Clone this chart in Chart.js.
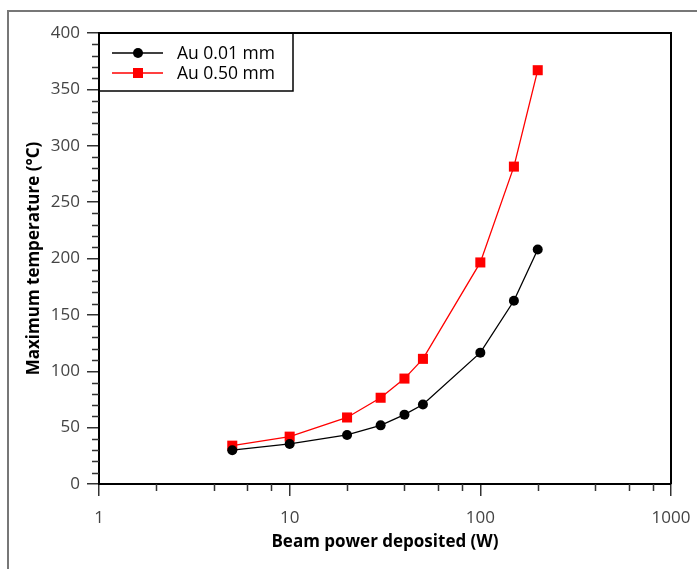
<!DOCTYPE html>
<html>
<head>
<meta charset="utf-8">
<script src="https://cdn.jsdelivr.net/npm/chart.js@4"></script>
<style>
  html, body { margin: 0; padding: 0; background: #fff; }
  #wrap { width: 697px; height: 569px; }
</style>
</head>
<body>
<div id="wrap"><canvas id="tempChart" width="697" height="569"></canvas></div>
<script>
// Beam power values (W) on the log x axis
const powers = [5, 10, 20, 30, 40, 50, 100, 150, 200];
// Maximum temperature (°C)
const tempThin = [30, 35.5, 43.5, 52, 61.5, 70.5, 116.5, 162.5, 208];
const tempThick = [34, 42, 59, 76.5, 93.5, 111, 196.5, 281.5, 367];
const seriesLabels = ['Au 0.01 mm', 'Au 0.50 mm'];
// Labelled ticks
const xTickValues = [1, 10, 100, 1000];
const yTickValues = [0, 50, 100, 150, 200, 250, 300, 350, 400];

const FONT = "'Open Sans', 'Noto Sans', sans-serif";

function toPoints(xs, ys) {
  return xs.map((x, i) => ({ x: x, y: ys[i] }));
}

// Outer grey frame, plot box top/right edges, minor ticks and the legend box
const framePlugin = {
  id: 'frame',
  beforeDraw(chart) {
    const ctx = chart.ctx;
    ctx.save();
    ctx.fillStyle = '#fff';
    ctx.fillRect(0, 0, chart.width, chart.height);
    ctx.strokeStyle = '#777';
    ctx.lineWidth = 2;
    ctx.strokeRect(8, 11, chart.width + 20, chart.height + 20);
    ctx.restore();
  },
  afterDraw(chart) {
    const ctx = chart.ctx;
    const area = chart.chartArea;
    const xs = chart.scales.x;
    const ys = chart.scales.y;
    ctx.save();

    // top and right edges of the plot box
    ctx.strokeStyle = '#000';
    ctx.lineWidth = 2;
    ctx.beginPath();
    ctx.moveTo(area.left, area.top);
    ctx.lineTo(area.right, area.top);
    ctx.lineTo(area.right, area.bottom);
    ctx.stroke();

    // minor ticks
    ctx.strokeStyle = '#333';
    ctx.lineWidth = 1.5;
    ctx.beginPath();
    for (let v = 10; v < 400; v += 10) {
      if (v % 50 === 0) continue;
      const py = Math.round(ys.getPixelForValue(v)) + 0.5;
      ctx.moveTo(area.left - 7, py);
      ctx.lineTo(area.left, py);
    }
    [1, 10, 100].forEach(dec => {
      [2, 4, 6, 8].forEach(m => {
        const px = Math.round(xs.getPixelForValue(dec * m)) + 0.5;
        ctx.moveTo(px, area.bottom);
        ctx.lineTo(px, area.bottom + 7);
      });
    });
    ctx.stroke();

    // legend
    const lx = area.left, ly = area.top;
    ctx.strokeStyle = '#000';
    ctx.lineWidth = 1.5;
    ctx.strokeRect(lx, ly, 194, 58);
    ctx.font = '17.5px ' + FONT;
    ctx.textBaseline = 'middle';
    ctx.textAlign = 'left';
    chart.data.datasets.forEach((ds, i) => {
      const y = ly + 20 + i * 20;
      ctx.strokeStyle = ds.borderColor;
      ctx.lineWidth = ds.borderWidth;
      ctx.beginPath();
      ctx.moveTo(lx + 13, y);
      ctx.lineTo(lx + 64, y);
      ctx.stroke();
      ctx.fillStyle = ds.pointBackgroundColor;
      ctx.beginPath();
      if (ds.pointStyle === 'rect') {
        ctx.rect(lx + 39 - 5, y - 5, 10, 10);
      } else {
        ctx.arc(lx + 39, y, 5, 0, Math.PI * 2);
      }
      ctx.fill();
      ctx.fillStyle = '#000';
      ctx.fillText(ds.label, lx + 78, y + 1);
    });
    ctx.restore();
  }
};

const ctx = document.getElementById('tempChart').getContext('2d');
new Chart(ctx, {
  type: 'line',
  data: {
    datasets: [
      {
        label: seriesLabels[0],
        data: toPoints(powers, tempThin),
        borderColor: '#000',
        backgroundColor: '#000',
        pointBackgroundColor: '#000',
        pointBorderColor: '#000',
        pointStyle: 'circle',
        pointRadius: 5,
        pointBorderWidth: 0,
        borderWidth: 1.3,
        tension: 0
      },
      {
        label: seriesLabels[1],
        data: toPoints(powers, tempThick),
        borderColor: '#ff0000',
        backgroundColor: '#ff0000',
        pointBackgroundColor: '#ff0000',
        pointBorderColor: '#ff0000',
        pointStyle: 'rect',
        pointRadius: 7.1,
        pointBorderWidth: 0,
        borderWidth: 1.3,
        tension: 0
      }
    ]
  },
  options: {
    responsive: false,
    animation: false,
    devicePixelRatio: 1,
    layout: { padding: { left: 0, top: 33, right: 26, bottom: 0 } },
    plugins: {
      legend: { display: false },
      tooltip: { enabled: false }
    },
    scales: {
      x: {
        type: 'logarithmic',
        min: 1,
        max: 1000,
        afterBuildTicks: scale => {
          scale.ticks = xTickValues.map(v => ({ value: v }));
        },
        afterFit: scale => {
          scale.height = 85;
          scale.paddingLeft = 0;
          scale.paddingRight = 0;
        },
        ticks: {
          autoSkip: false,
          maxRotation: 0,
          padding: 12,
          color: '#444',
          font: { family: FONT, size: 17 },
          callback: v => String(v)
        },
        grid: {
          display: true,
          drawOnChartArea: false,
          drawTicks: true,
          tickLength: 12,
          color: '#333',
          lineWidth: 1.5
        },
        border: { display: true, color: '#000', width: 2 },
        title: {
          display: true,
          text: 'Beam power deposited (W)',
          color: '#000',
          font: { family: FONT, size: 17, weight: 'bold' },
          padding: { top: 0, bottom: 17 }
        }
      },
      y: {
        min: 0,
        max: 400,
        afterBuildTicks: scale => {
          scale.ticks = yTickValues.map(v => ({ value: v }));
        },
        afterFit: scale => { scale.width = 99; },
        ticks: {
          padding: 7,
          color: '#444',
          font: { family: FONT, size: 17 }
        },
        grid: {
          display: true,
          drawOnChartArea: false,
          drawTicks: true,
          tickLength: 12,
          color: '#333',
          lineWidth: 1.5
        },
        border: { display: true, color: '#000', width: 2 },
        title: {
          display: true,
          text: 'Maximum temperature (°C)',
          color: '#000',
          font: { family: FONT, size: 17, weight: 'bold' },
          padding: { top: 24, bottom: 0 }
        }
      }
    }
  },
  plugins: [framePlugin]
});
</script>
</body>
</html>
